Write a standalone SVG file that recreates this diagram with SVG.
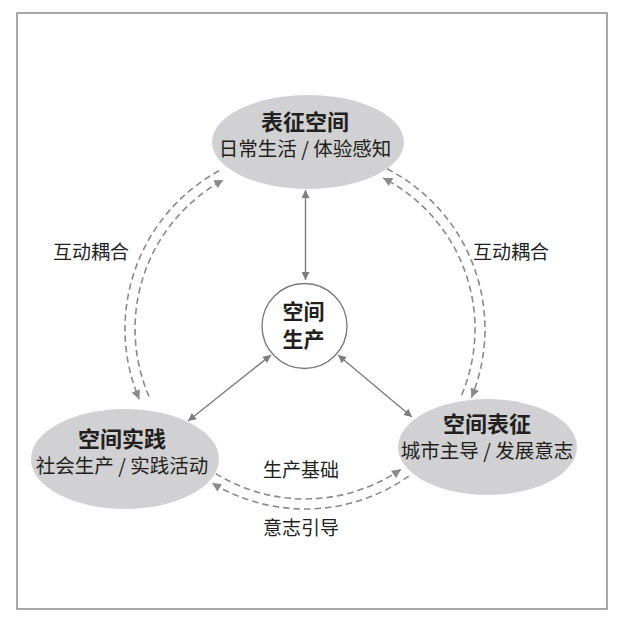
<svg xmlns="http://www.w3.org/2000/svg" width="620" height="620" viewBox="0 0 620 620">
<style>
.t{font-family:"Noto Sans CJK SC","Noto Sans",sans-serif;fill:#231f20;text-anchor:middle}
.title{font-size:22px;font-weight:bold}
.ctr{font-size:21px;font-weight:bold}
.sub{font-size:19.5px}
.lab{font-size:19px}
.node{fill:#d1d1d3}
.solid{fill:none;stroke:#7d7d7d;stroke-width:1.4}
.dash{fill:none;stroke:#8a8a8a;stroke-width:1.6;stroke-dasharray:6.5 4}
</style>
<defs>
<marker id="ah" viewBox="0 0 10 10" refX="10" refY="5" markerUnits="userSpaceOnUse" markerWidth="10" markerHeight="8" orient="auto-start-reverse">
<path d="M0,0 L10,5 L0,10 z" fill="#7d7d7d"/>
</marker>
<marker id="dh" viewBox="0 0 10 10" refX="10" refY="5" markerUnits="userSpaceOnUse" markerWidth="10" markerHeight="9" orient="auto">
<path d="M0,0 L10,5 L0,10 z" fill="#8a8a8a"/>
</marker>
</defs>
<rect x="17" y="13" width="590" height="596" fill="#fff" stroke="#8a8a8a" stroke-width="1.5"/>
<g id="connectors">
<line class="solid" x1="305.5" y1="190" x2="305.5" y2="280" marker-start="url(#ah)" marker-end="url(#ah)"/>
<line class="solid" x1="271" y1="355" x2="188" y2="421" marker-start="url(#ah)" marker-end="url(#ah)"/>
<line class="solid" x1="338" y1="355" x2="412" y2="417" marker-start="url(#ah)" marker-end="url(#ah)"/>
<path class="dash" d="M219.1,170.8 A180,180 0 0 0 139.3,399.3" marker-end="url(#dh)"/>
<path class="dash" d="M149,396.5 A170,170 0 0 1 223.4,179.9" marker-end="url(#dh)"/>
<path class="dash" d="M387,168.8 A180,180 0 0 1 471.4,397.6" marker-end="url(#dh)"/>
<path class="dash" d="M461.7,394.9 A170,170 0 0 0 383,177.9" marker-end="url(#dh)"/>
<path class="dash" d="M215.7,473.6 A170,170 0 0 0 401,469.3" marker-end="url(#dh)"/>
<path class="dash" d="M408.8,476.1 A180,180 0 0 1 212,483.1" marker-end="url(#dh)"/>
</g>
<g id="labels">
<text class="t lab" x="91" y="259">互动耦合</text>
<text class="t lab" x="511" y="259">互动耦合</text>
<text class="t lab" x="301" y="477">生产基础</text>
<text class="t lab" x="301" y="535">意志引导</text>
</g>
<g id="node-top">
<ellipse class="node" cx="308" cy="142" rx="96" ry="47"/>
<text class="t title" x="305" y="129.5">表征空间</text>
<text class="t sub" x="305" y="155.5">日常生活 / 体验感知</text>
</g>
<g id="node-center">
<circle cx="304.5" cy="326" r="42.5" fill="#fff" stroke="#7d7d7d" stroke-width="1.4"/>
<text class="t ctr" x="303.5" y="318.5">空间</text>
<text class="t ctr" x="303.5" y="347">生产</text>
</g>
<g id="node-left">
<ellipse class="node" cx="125" cy="459" rx="94" ry="50"/>
<text class="t title" x="122" y="446.5">空间实践</text>
<text class="t sub" x="122" y="472.5">社会生产 / 实践活动</text>
</g>
<g id="node-right">
<ellipse class="node" cx="487.5" cy="447" rx="89.5" ry="48"/>
<text class="t title" x="487" y="431.5">空间表征</text>
<text class="t sub" x="487" y="458">城市主导 / 发展意志</text>
</g>
</svg>
